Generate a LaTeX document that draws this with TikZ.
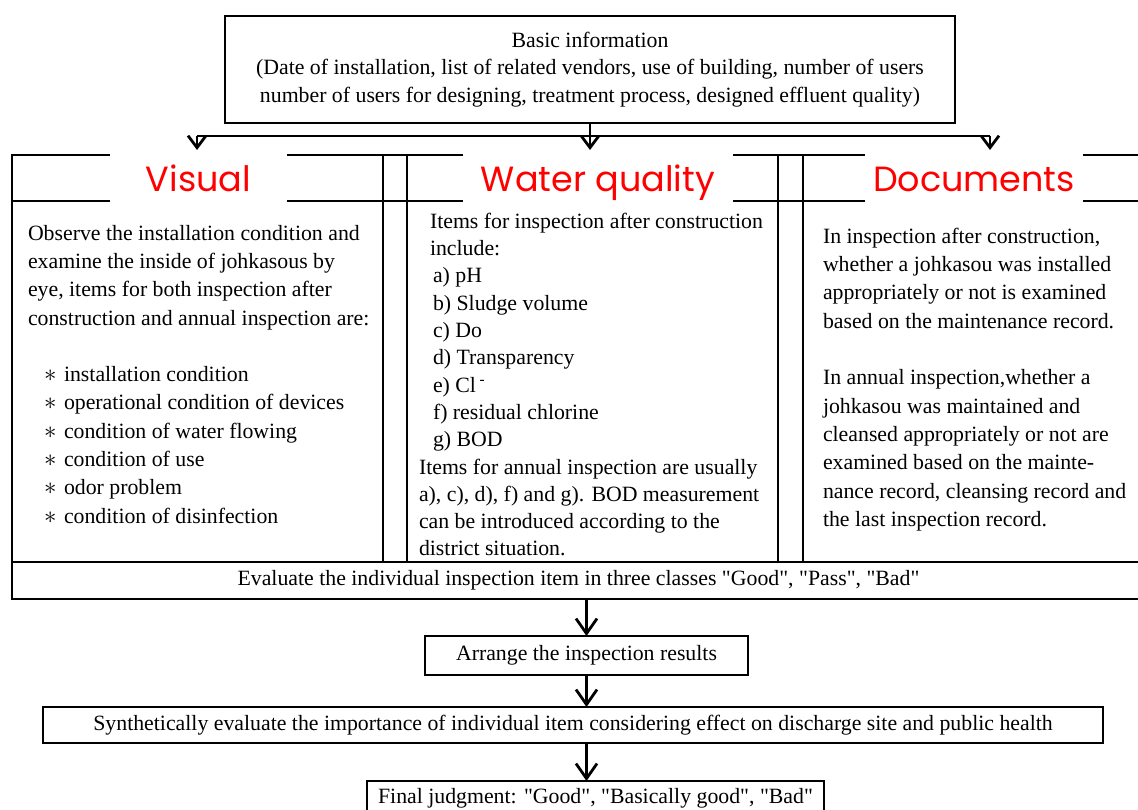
\documentclass[tikz,border=0pt]{standalone}
\usepackage{fontspec}
\setmainfont{Liberation Serif}[Ligatures=TeXOff]
\newfontfamily\headfont{Poppins}
\usepackage{tikz}
\usetikzlibrary{arrows.meta}
\newcommand{\staritem}[1]{\hspace*{16pt}\makebox[20pt][l]{\fontsize{28}{28}\selectfont$\ast$}#1}

\begin{document}
\begin{tikzpicture}[x=1pt, y=-1pt, font=\fontsize{21.8}{28.3}\selectfont,
  box/.style={draw, line width=2.8pt, inner sep=0pt, outer sep=0pt, align=center},
  panel/.style={box, minimum height=407pt},
  txt/.style={anchor=north west, inner sep=0pt, outer sep=0pt, align=left},
  head/.style={fill=white, inner sep=0pt, minimum height=62pt, text height=26pt, text depth=8pt, text=red, font=\headfont\fontsize{35}{40}\selectfont},
  rule/.style={line width=2.8pt},
  arr/.style={-{Straight Barb[length=12pt,width=18pt]}, line width=2.8pt},
  bigarr/.style={arr, -{Straight Barb[length=15pt,width=21pt]}}]
\useasboundingbox (0,0) rectangle (1138,810);
\clip (0,0) rectangle (1138,810);
\node[box, minimum width=730pt, minimum height=107pt, font=\fontsize{21.8}{27.5}\selectfont] (basic) at (590,69.5) {Basic information\\ (Date of installation, list of related vendors, use of building, number of users\\ number of users for designing, treatment process, designed effluent quality)};
\node[panel, minimum width=371pt] (vis) at (197.5,358.5) {};
\node[panel, minimum width=371pt] (wq) at (592.5,358.5) {};
\node[panel, minimum width=342pt] (doc) at (974,358.5) {};
\draw[rule] (vis.north west) -- (doc.north east); \draw[rule] ([yshift=-46pt]vis.north west) -- ([yshift=-46pt]doc.north east);
\node[head, minimum width=177pt] (vishead) at (198.5,183) {Visual};
\node[head, minimum width=270pt] (wqhead) at (598,183) {Water quality};
\node[head, minimum width=218pt] (dochead) at (974,183) {Documents};
\node[txt] (vistext) at (28,225) {Observe the installation condition and\\ examine the inside of johkasous by\\ eye, items for both inspection after\\ construction and annual inspection are:\\[28.3pt] \staritem{installation condition}\\ \staritem{operational condition of devices}\\ \staritem{condition of water flowing}\\ \staritem{condition of use}\\ \staritem{odor problem}\\ \staritem{condition of disinfection}};
\node[txt, font=\fontsize{21.8}{27.3}\selectfont] (wqtext) at (419,213) {\hspace*{11pt}Items for inspection after construction\\ \hspace*{11pt}include:\\ \hspace*{14pt}a) pH\\ \hspace*{14pt}b) Sludge volume\\ \hspace*{14pt}c) Do\\ \hspace*{14pt}d) Transparency\\ \hspace*{14pt}e) Cl\,\textsuperscript{-}\\ \hspace*{14pt}f) residual chlorine\\ \hspace*{14pt}g) BOD\\ Items for annual inspection are usually\\ a), c), d), f) and g). BOD measurement\\ can be introduced according to the\\ district situation.};
\node[txt] (doctext) at (823,228) {In inspection after construction,\\ whether a johkasou was installed\\ appropriately or not is examined\\ based on the maintenance record.\\[28.3pt] In annual inspection,whether a\\ johkasou was maintained and\\ cleansed appropriately or not are\\ examined based on the mainte-\\ nance record, cleansing record and\\ the last inspection record.};
\node[box, minimum width=1133pt, minimum height=37pt] (eval) at (578.5,580.5) {Evaluate the individual inspection item in three classes "Good", "Pass", "Bad"};
\node[box, minimum width=323pt, minimum height=39pt] (arrange) at (586.5,655.5) {Arrange the inspection results};
\node[box, minimum width=1060pt, minimum height=36pt] (synth) at (573,725) {Synthetically evaluate the importance of individual item considering effect on discharge site and public health};
\node[box, minimum width=457pt, minimum height=34pt] (final) at (595.5,798) {Final judgment: "Good", "Basically good", "Bad"};
\coordinate (busL) at (197,136); \coordinate (busR) at (990,136);
\draw[rule] (busL) -- (busR);
\draw[arr, shorten >=5pt] (basic.south) -- (basic.south |- vis.north); \draw[arr, shorten >=5pt] (busL) -- (busL |- vis.north); \draw[arr, shorten >=5pt] (busR) -- (busR |- doc.north);
\draw[bigarr] (arrange.north |- eval.south) -- (arrange.north); \draw[bigarr] (arrange.south) -- (arrange.south |- synth.north); \draw[bigarr] (arrange.south |- synth.south) -- (arrange.south |- final.north);
\end{tikzpicture}
\end{document}
